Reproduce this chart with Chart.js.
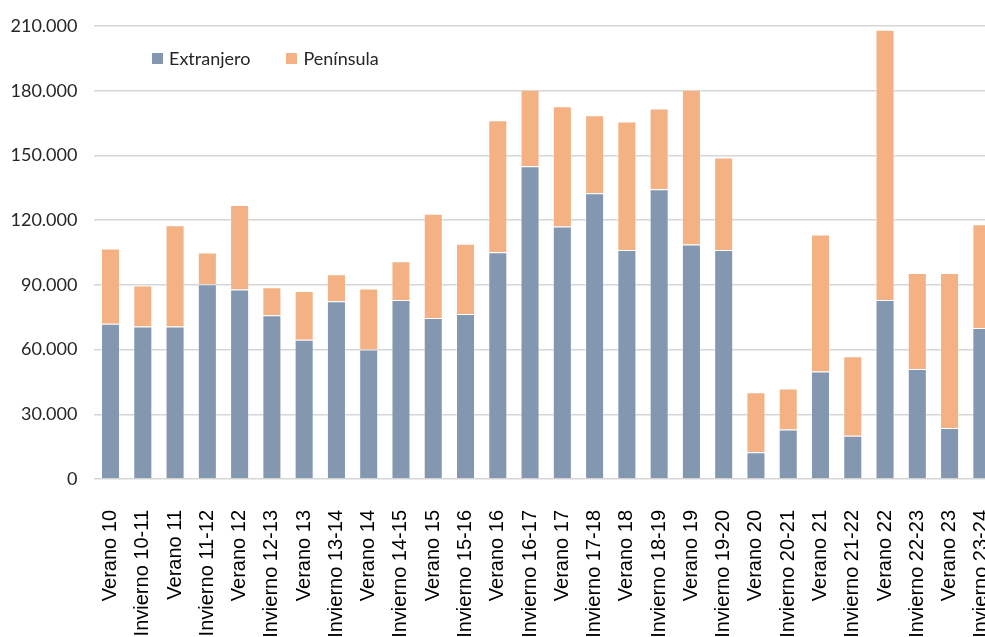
<!DOCTYPE html>
<html>
<head>
<meta charset="utf-8">
<script src="https://cdn.jsdelivr.net/npm/chart.js@4/dist/chart.umd.min.js"></script>
<style>
  html, body { margin: 0; padding: 0; background: #fff; overflow: hidden; }
  #wrap { position: relative; width: 998px; height: 660px; }
  #legend { position: absolute; left: 152px; top: 47px; display: flex; font-family: Lato, sans-serif; font-size: 18px; color: #262626; }
  #legend .item { display: flex; align-items: center; margin-right: 36px; }
  #legend .box { width: 11px; height: 11px; margin-right: 6px; }
</style>
</head>
<body>
<div id="wrap">
  <canvas id="chart"></canvas>
  <div id="legend"></div>
</div>
<script>
var categories = ["Verano 10", "Invierno 10-11", "Verano 11", "Invierno 11-12", "Verano 12", "Invierno 12-13",
  "Verano 13", "Invierno 13-14", "Verano 14", "Invierno 14-15", "Verano 15", "Invierno 15-16",
  "Verano 16", "Invierno 16-17", "Verano 17", "Invierno 17-18", "Verano 18", "Invierno 18-19",
  "Verano 19", "Invierno 19-20", "Verano 20", "Invierno 20-21", "Verano 21", "Invierno 21-22",
  "Verano 22", "Invierno 22-23", "Verano 23", "Invierno 23-24"];

var extranjero = [72000, 70700, 70700, 90300, 87800, 75900, 64600, 82400, 60000, 83000, 74600, 76500,
  105100, 145000, 117000, 132500, 106200, 134300, 108700, 106200, 12400, 23000, 49800, 20100,
  83000, 51000, 23600, 70000];

var peninsula = [34800, 19000, 46900, 14700, 39200, 13000, 22600, 12500, 28300, 17900, 48400, 32600,
  61200, 35500, 55800, 36100, 59500, 37400, 71800, 42800, 27800, 19000, 63500, 36800,
  125300, 44500, 71900, 48100];

var yTicks = [0, 30000, 60000, 90000, 120000, 150000, 180000, 210000];

var datasets = [
  { label: "Extranjero", data: extranjero, backgroundColor: "#8497b0", borderColor: "rgba(255,255,255,0.35)", borderWidth: 1 },
  { label: "Península", data: peninsula, backgroundColor: "#f4b183", borderColor: "rgba(255,255,255,0.35)", borderWidth: 1 }
];

// leyenda html dentro del area del grafico
var legend = document.getElementById("legend");
datasets.forEach(function(ds) {
  var item = document.createElement("div");
  item.className = "item";
  var box = document.createElement("span");
  box.className = "box";
  box.style.background = ds.backgroundColor;
  var txt = document.createElement("span");
  txt.textContent = ds.label;
  item.appendChild(box);
  item.appendChild(txt);
  legend.appendChild(item);
});

var ctx = document.getElementById("chart").getContext("2d");
new Chart(ctx, {
  type: "bar",
  data: { labels: categories, datasets: datasets },
  options: {
    responsive: true,
    maintainAspectRatio: false,
    animation: false,
    layout: { padding: { top: 26, left: 0, right: 0, bottom: 0 } },
    plugins: { legend: { display: false }, tooltip: { enabled: false } },
    datasets: { bar: { barPercentage: 0.59, categoryPercentage: 1 } },
    scales: {
      x: {
        stacked: true,
        grid: { display: false, drawTicks: false },
        border: { display: false },
        ticks: {
          minRotation: 90, maxRotation: 90, autoSkip: false, padding: 31,
          color: "#000", font: { family: "Liberation Sans", size: 20 }
        },
        afterFit: function(s) { s.height = 660 - 479; s.paddingLeft = 0; s.paddingRight = 0; }
      },
      y: {
        stacked: true,
        min: 0, max: 210000,
        afterBuildTicks: function(s) { s.ticks = yTicks.map(function(v) { return { value: v }; }); },
        grid: { color: "#d6d6d6", lineWidth: 1.5, drawTicks: false },
        border: { display: false },
        ticks: {
          padding: 17, color: "#262626", font: { family: "Lato", size: 18 },
          callback: function(v) { return v.toLocaleString("de-DE"); }
        },
        afterFit: function(s) { s.width = 94.4; s.paddingTop = 0; s.paddingBottom = 0; }
      }
    }
  }
});
</script>
</body>
</html>
